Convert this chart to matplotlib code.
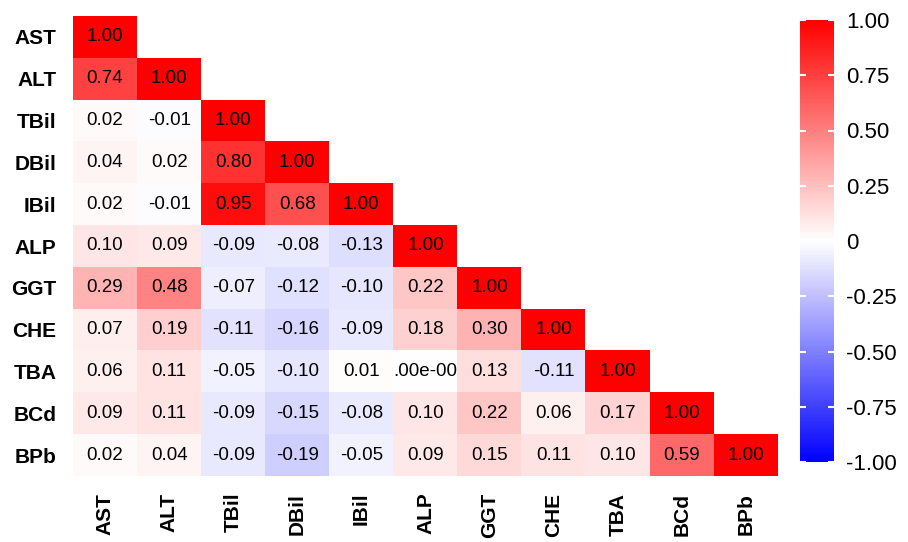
import numpy as np
import matplotlib
matplotlib.use("Agg")
import matplotlib.pyplot as plt
from matplotlib.ticker import FixedLocator, FixedFormatter

plt.rcParams['font.family'] = ['Liberation Sans', 'DejaVu Sans']

labels = ["AST", "ALT", "TBil", "DBil", "IBil", "ALP", "GGT", "CHE", "TBA", "BCd", "BPb"]

# lower-triangle correlation rows
rows = [
    [1.00],
    [0.74, 1.00],
    [0.02, -0.01, 1.00],
    [0.04, 0.02, 0.80, 1.00],
    [0.02, -0.01, 0.95, 0.68, 1.00],
    [0.10, 0.09, -0.09, -0.08, -0.13, 1.00],
    [0.29, 0.48, -0.07, -0.12, -0.10, 0.22, 1.00],
    [0.07, 0.19, -0.11, -0.16, -0.09, 0.18, 0.30, 1.00],
    [0.06, 0.11, -0.05, -0.10, 0.01, 0.00, 0.13, -0.11, 1.00],
    [0.09, 0.11, -0.09, -0.15, -0.08, 0.10, 0.22, 0.06, 0.17, 1.00],
    [0.02, 0.04, -0.09, -0.19, -0.05, 0.09, 0.15, 0.11, 0.10, 0.59, 1.00],
]
# special text shown in one cell of the original
label_overrides = {(8, 5): ".00e-00"}

cbar_ticks = [1.0, 0.75, 0.5, 0.25, 0.0, -0.25, -0.5, -0.75, -1.0]
cbar_labels = ["1.00", "0.75", "0.50", "0.25", "0", "-0.25", "-0.50", "-0.75", "-1.00"]

n = len(labels)
M = np.full((n, n), np.nan)
for i, r in enumerate(rows):
    M[i, :len(r)] = r
Mm = np.ma.masked_invalid(M)

fig = plt.figure(figsize=(9.08, 5.42), dpi=100)
ax = fig.add_axes([73/908, 66/542, 705/908, 460/542])
im = ax.imshow(Mm, cmap="bwr", vmin=-1, vmax=1, aspect="auto", interpolation="nearest")

for i in range(n):
    for j in range(i + 1):
        txt = label_overrides.get((i, j), f"{M[i, j]:.2f}")
        ax.text(j, i, txt, ha="center", va="center", fontsize=13.5, color="black")

ax.set_xticks(range(n))
ax.set_yticks(range(n))
ax.set_xticklabels(labels, rotation=90, fontsize=15, fontweight="bold")
ax.set_yticklabels(labels, fontsize=15, fontweight="bold")
ax.tick_params(length=0, pad=12)
ax.tick_params(axis="x", pad=12)
for s in ax.spines.values():
    s.set_visible(False)

cax = fig.add_axes([800/908, 80/542, 34/908, 442/542])
cb = fig.colorbar(im, cax=cax)
cb.outline.set_visible(False)
cax.yaxis.set_major_locator(FixedLocator(cbar_ticks))
cax.yaxis.set_major_formatter(FixedFormatter(cbar_labels))
cax.tick_params(axis="y", which="major", direction="in", color="white", width=1.5,
                length=4, left=True, right=True, labelsize=16, pad=9)

fig.savefig("out.png", dpi=100)
